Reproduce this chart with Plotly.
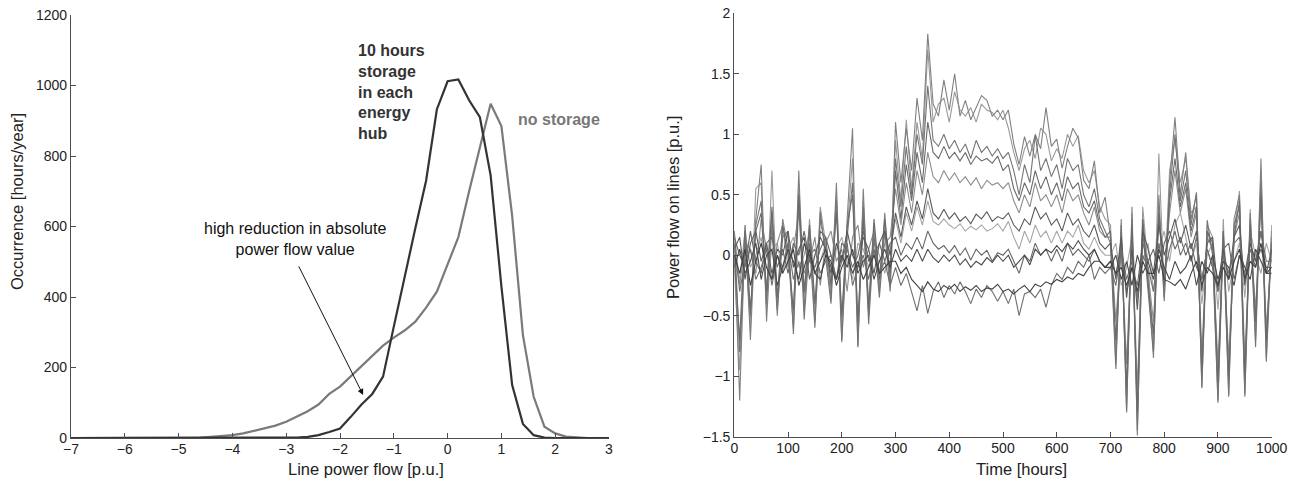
import plotly.graph_objects as go

# ---- left panel: distribution of line power flow ----
flow_bins = [round(-7 + 0.2 * i, 1) for i in range(51)]
occ_no_storage = [0] * 10 + [
    0, 1, 1, 3, 5, 8, 13, 20, 27, 35,
    46, 62, 76, 95, 125, 146, 175, 205, 235, 262,
    285, 305, 330, 370, 415, 490, 570, 700, 825, 948,
    885, 630, 292, 117, 32, 13, 4, 1, 0, 0,
    0]
occ_storage_10h = [0] * 20 + [
    1, 1, 3, 8, 17, 27, 60, 95, 125, 174,
    316, 460, 595, 730, 932, 1012, 1017, 958, 910, 745,
    430, 150, 40, 8, 1, 0, 0, 0, 0, 0,
    0]

x_ticks_left = [-7, -6, -5, -4, -3, -2, -1, 0, 1, 2, 3]
y_ticks_left = [0, 200, 400, 600, 800, 1000, 1200]

# ---- right panel: power flow on lines over time (read every 10 h) ----
hours = list(range(0, 1001, 10))

line_a1 = [0.10, -1.20, 0.20, -0.70, 0.30, 0.75, -0.55, 0.25, -0.50, 0.30,
           0.05, -0.60, 0.70, -0.45, 0.20, -0.55, 0.30, 0.05, -0.35, 0.60,
           -0.70, 0.30, 1.05, -0.75, 0.55, -0.50, 0.25, -0.30, 0.35, -0.25,
           1.10, 0.60, 1.05, 0.70, 1.30, 0.95, 1.83, 1.25, 1.15, 1.45,
           1.20, 1.50, 1.15, 1.28, 1.12, 1.22, 1.32, 1.28, 1.15, 1.20,
           1.12, 1.20, 0.92, 0.75, 0.98, 0.82, 1.00, 0.88, 1.22, 0.90,
           0.96, 0.72, 0.90, 1.05, 0.97, 0.62, 0.55, 0.78, 0.35, 0.48,
           0.15, -0.90, 0.30, -1.30, 0.40, -1.49, 0.30, -0.20, -0.85, 0.50,
           -0.35, 0.60, 1.14, 0.50, 0.85, 0.30, 0.50, -1.10, 0.20, 0.05,
           -1.20, 0.20, -1.15, 0.30, 0.50, -1.15, 0.35, -0.70, 0.80, -0.85,
           0.25]
line_a2 = [-0.10, -0.95, 0.15, -0.60, 0.55, 0.60, -0.45, 0.70, -0.40, 0.20,
           0.15, -0.50, 0.60, -0.35, 0.30, -0.45, 0.40, 0.10, -0.30, 0.50,
           -0.55, 0.20, 0.80, -0.60, 0.45, -0.40, 0.20, -0.25, 0.25, -0.20,
           0.95, 0.45, 1.12, 0.55, 1.10, 0.80, 1.70, 1.10, 1.25, 1.30,
           1.10, 1.35, 1.20, 1.15, 1.22, 1.10, 1.25, 1.20, 1.18, 1.12,
           1.20, 1.05, 0.85, 0.70, 0.88, 0.95, 0.80, 1.05, 1.00, 0.78,
           0.88, 0.80, 1.00, 0.90, 0.99, 0.70, 0.60, 0.70, 0.40, 0.30,
           0.25, -0.80, 0.20, -1.20, 0.35, -1.35, 0.40, -0.10, -0.75, 0.84,
           -0.30, 0.70, 0.95, 0.60, 0.80, 0.35, 0.40, -1.00, 0.25, 0.15,
           -1.10, 0.30, -1.05, 0.20, 0.53, -1.05, 0.38, -0.60, 0.70, -0.75,
           0.20]
line_b1 = [0.20, -0.80, 0.10, -0.50, 0.25, 0.45, -0.40, 0.35, -0.45, 0.15,
           0.20, -0.65, 0.45, -0.53, 0.10, -0.60, 0.36, 0.00, -0.40, 0.45,
           -0.72, 0.15, 0.60, -0.76, 0.40, -0.57, 0.15, -0.35, 0.20, -0.30,
           0.80, 0.40, 0.90, 0.50, 1.00, 0.75, 1.40, 0.95, 0.90, 1.00,
           0.88, 0.95, 0.85, 0.92, 0.80, 0.95, 0.85, 0.90, 0.82, 0.88,
           0.80, 0.85, 0.70, 0.50, 0.75, 0.60, 0.99, 0.70, 0.80, 0.65,
           0.75, 0.55, 0.80, 0.70, 0.75, 0.50, 0.40, 0.55, 0.30, 0.20,
           0.10, -0.94, 0.25, -1.29, 0.30, -1.45, 0.20, -0.30, -0.80, 0.40,
           -0.38, 0.50, 1.00, 0.45, 0.70, 0.25, 0.52, -1.09, 0.29, 0.00,
           -1.22, 0.15, -1.17, 0.25, 0.40, -1.17, 0.30, -0.76, 0.60, -0.88,
           0.15]
line_b2 = [0.00, -0.70, 0.25, -0.45, 0.20, 0.35, -0.30, 0.40, -0.35, 0.25,
           0.00, -0.45, 0.50, -0.30, 0.25, -0.40, 0.20, 0.15, -0.25, 0.35,
           -0.50, 0.25, 0.50, -0.55, 0.30, -0.45, 0.30, -0.20, 0.30, -0.15,
           0.70, 0.30, 0.75, 0.45, 0.85, 0.60, 1.10, 0.85, 0.80, 0.90,
           0.80, 0.85, 0.78, 0.85, 0.75, 0.82, 0.78, 0.80, 0.76, 0.82,
           0.70, 0.75, 0.55, 0.45, 0.60, 0.50, 0.70, 0.55, 0.65, 0.50,
           0.60, 0.45, 0.65, 0.55, 0.60, 0.40, 0.35, 0.45, 0.25, 0.15,
           0.20, -0.70, 0.15, -1.10, 0.25, -1.30, 0.30, -0.25, -0.65, 0.35,
           -0.25, 0.45, 0.80, 0.40, 0.60, 0.20, 0.40, -0.95, 0.20, 0.10,
           -1.05, 0.20, -1.00, 0.15, 0.45, -1.00, 0.25, -0.55, 0.50, -0.70,
           0.10]
line_c1 = [0.20, -0.25, 0.10, 0.05, -0.15, 0.30, 0.05, -0.20, 0.10, 0.25,
           -0.10, 0.05, 0.35, -0.15, -0.05, 0.15, -0.25, 0.10, 0.20, -0.05,
           0.05, -0.30, 0.15, 0.25, -0.10, 0.05, 0.20, -0.15, 0.10, 0.15,
           0.55, 0.25, 0.60, 0.35, 0.70, 0.50, 0.85, 0.65, 0.60, 0.70,
           0.62, 0.68, 0.60, 0.65, 0.58, 0.64, 0.55, 0.62, 0.58, 0.60,
           0.55, 0.60, 0.45, 0.35, 0.50, 0.40, 0.60, 0.45, 0.50, 0.40,
           0.50, 0.35, 0.55, 0.45, 0.50, 0.35, 0.25, 0.40, 0.20, 0.15,
           0.15, -0.55, 0.10, -0.90, 0.20, -1.10, 0.20, -0.15, -0.55, 0.30,
           -0.20, 0.35, 0.70, 0.35, 0.55, 0.15, 0.35, -0.80, 0.15, 0.05,
           -0.90, 0.10, -0.85, 0.15, 0.35, -0.85, 0.20, -0.45, 0.45, -0.60,
           0.05]
line_d1 = [0.05, 0.15, -0.20, 0.10, 0.20, -0.05, 0.10, -0.15, 0.05, 0.00,
           0.20, -0.10, 0.05, 0.15, -0.20, 0.00, 0.15, 0.05, -0.15, 0.10,
           -0.05, 0.20, 0.00, -0.10, 0.15, 0.05, -0.15, 0.10, 0.20, 0.00,
           0.35, 0.15, 0.40, 0.25, 0.45, 0.30, 0.55, 0.35, 0.30, 0.38,
           0.30, 0.35, 0.28, 0.32, 0.26, 0.34, 0.30, 0.36, 0.28, 0.32,
           0.30, 0.35, 0.25, 0.20, 0.30, 0.25, 0.40, 0.30, 0.35, 0.25,
           0.30, 0.20, 0.35, 0.25, 0.30, 0.20, 0.15, 0.25, 0.10, 0.05,
           0.10, -0.20, 0.15, -0.35, 0.05, -0.45, 0.20, 0.05, -0.15, 0.25,
           0.00, 0.15, 0.30, 0.10, 0.25, 0.05, 0.20, -0.30, 0.10, 0.15,
           -0.30, 0.05, -0.20, 0.15, 0.25, -0.25, 0.10, -0.05, 0.20, -0.15,
           0.05]
line_d2 = [-0.05, -0.20, 0.20, -0.10, 0.00, 0.15, -0.25, 0.05, 0.10, -0.15,
           0.05, 0.15, -0.10, 0.00, 0.20, -0.15, -0.05, 0.10, -0.20, 0.05,
           0.15, -0.05, -0.20, 0.10, 0.05, -0.10, 0.10, 0.00, -0.15, 0.05,
           0.30, 0.10, 0.35, 0.20, 0.40, 0.25, 0.45, 0.28, 0.25, 0.30,
           0.25, 0.22, 0.26, 0.20, 0.24, 0.21, 0.25, 0.20, 0.22, 0.26,
           0.20, 0.28, 0.15, 0.05, 0.20, 0.10, 0.25, 0.15, 0.20, 0.10,
           0.20, 0.10, 0.20, 0.15, 0.25, 0.10, 0.05, 0.15, 0.05, 0.00,
           0.00, 0.10, -0.25, -0.10, 0.15, -0.40, -0.05, 0.10, -0.30, 0.05,
           0.20, -0.05, 0.25, 0.35, 0.15, -0.05, 0.10, -0.40, 0.00, 0.10,
           -0.45, 0.15, -0.30, -0.05, 0.10, -0.35, 0.20, 0.00, -0.15, 0.10,
           -0.05]
line_e1 = [0.15, 0.00, -0.10, 0.20, -0.05, -0.15, 0.10, 0.15, -0.10, 0.05,
           -0.15, 0.10, 0.00, 0.20, -0.05, -0.10, 0.05, 0.15, 0.00, -0.20,
           0.10, 0.05, -0.10, 0.00, 0.20, -0.05, 0.00, 0.10, -0.05, 0.10,
           0.15, 0.00, 0.10, 0.05, 0.15, 0.05, 0.20, 0.10, 0.05, 0.08,
           0.02, 0.08, 0.00, 0.06, -0.04, 0.05, 0.00, 0.04, -0.05, 0.02,
           0.00, 0.05, -0.05, -0.15, 0.00, -0.05, 0.10, 0.00, 0.05, -0.05,
           0.05, -0.05, 0.10, 0.00, 0.05, 0.00, -0.05, 0.05, -0.05, -0.10,
           -0.05, -0.15, 0.05, -0.30, -0.10, -0.25, 0.10, -0.05, 0.05, -0.15,
           0.10, 0.20, 0.05, 0.15, 0.00, 0.10, -0.10, -0.20, 0.05, -0.10,
           -0.25, 0.05, 0.10, -0.20, 0.00, -0.15, 0.10, -0.05, 0.05, -0.10,
           -0.10]
line_f1 = [-0.10, 0.05, -0.15, -0.05, 0.10, -0.20, 0.00, 0.05, -0.25, -0.10,
           0.05, -0.05, -0.20, 0.10, 0.00, -0.15, -0.05, 0.05, -0.10, -0.20,
           0.00, -0.10, 0.05, -0.15, -0.05, 0.00, -0.20, -0.05, 0.05, -0.10,
           0.05, -0.05, 0.00, -0.05, 0.05, -0.05, 0.05, -0.02, -0.06, 0.00,
           -0.05, 0.00, -0.08, -0.03, -0.10, -0.05, -0.08, -0.02, -0.06, 0.00,
           -0.05, 0.00, -0.10, -0.05, 0.00, -0.08, 0.05, 0.00, 0.05, 0.02,
           0.08, 0.03, 0.10, 0.05, 0.12, 0.05, 0.00, 0.05, -0.05, -0.10,
           -0.10, 0.00, -0.20, -0.05, -0.25, 0.00, -0.15, -0.05, -0.20, 0.05,
           -0.10, -0.20, -0.05, -0.15, -0.10, 0.00, -0.25, -0.05, -0.15, 0.00,
           -0.20, -0.05, -0.10, -0.25, 0.00, -0.10, -0.20, 0.05, -0.05, -0.15,
           -0.15]
line_g1 = [0.00, -0.15, 0.05, -0.25, -0.05, 0.10, -0.10, -0.20, 0.00, -0.15,
           -0.05, 0.05, -0.25, -0.10, 0.05, -0.15, -0.20, 0.00, -0.05, -0.25,
           -0.10, 0.00, -0.15, -0.05, -0.20, -0.10, 0.00, -0.15, -0.10, -0.05,
           -0.05, -0.15, -0.10, -0.20, -0.25, -0.30, -0.22, -0.28, -0.30, -0.25,
           -0.28, -0.24, -0.30, -0.26, -0.29, -0.25, -0.30, -0.27, -0.28, -0.24,
           -0.30, -0.28, -0.32, -0.28, -0.25, -0.30, -0.24, -0.26, -0.22, -0.24,
           -0.20, -0.22, -0.18, -0.20, -0.15, -0.17, -0.10, -0.05, -0.05, -0.10,
           -0.05, -0.15, -0.10, -0.25, -0.10, -0.30, -0.05, -0.15, -0.15, 0.00,
           -0.20, -0.22, -0.25, -0.20, -0.28, -0.15, -0.05, -0.25, -0.10, -0.15,
           -0.25, -0.10, -0.20, -0.05, 0.05, -0.20, -0.05, -0.10, 0.10, -0.15,
           -0.10]
line_g2 = [0.10, -0.30, -0.05, 0.05, -0.20, -0.10, 0.05, -0.25, 0.00, -0.10,
           0.10, -0.20, -0.05, -0.30, 0.00, 0.05, -0.15, -0.05, 0.00, -0.20,
           -0.05, 0.10, -0.25, -0.10, 0.00, -0.20, 0.05, -0.15, -0.05, -0.25,
           -0.10, -0.25, -0.15, -0.30, -0.46, -0.25, -0.48, -0.30, -0.22, -0.35,
           -0.25, -0.32, -0.22, -0.30, -0.40, -0.28, -0.35, -0.25, -0.30, -0.38,
           -0.30, -0.40, -0.28, -0.50, -0.32, -0.30, -0.35, -0.28, -0.43, -0.25,
           -0.15, -0.20, -0.10, -0.15, -0.05, -0.10, 0.00, -0.20, -0.10, -0.15,
           -0.10, -0.25, 0.05, -0.20, -0.05, -0.35, 0.00, -0.10, -0.30, 0.10,
           -0.15, 0.05, 0.20, 0.00, 0.10, -0.05, 0.15, -0.20, 0.05, -0.10,
           -0.30, 0.00, -0.15, 0.10, 0.15, -0.20, 0.05, -0.10, 0.20, -0.05,
           -0.05]

x_ticks_right = [0, 100, 200, 300, 400, 500, 600, 700, 800, 900, 1000]
y_ticks_right = [-1.5, -1, -0.5, 0, 0.5, 1, 1.5, 2]

# the page body has an 8px margin, so the figure is drawn 8px smaller and
# all layout positions below are given in window pixels
OFF = 8
W, H = 1301 - OFF, 483 - OFF
FONT = "Liberation Sans, Arial, Helvetica, sans-serif"
AXIS = "#4d4d4d"


def px_x(p):
    return (p - OFF) / W


def px_y(p):
    return 1 - (p - OFF) / H


fig = go.Figure()

fig.add_trace(go.Scatter(x=flow_bins, y=occ_no_storage, mode="lines",
                         line=dict(color="#7a7a7a", width=2.2),
                         xaxis="x", yaxis="y", showlegend=False))
fig.add_trace(go.Scatter(x=flow_bins, y=occ_storage_10h, mode="lines",
                         line=dict(color="#333333", width=2.2),
                         xaxis="x", yaxis="y", showlegend=False))

right_lines = [
    (line_a2, "#9a9a9a"), (line_d2, "#a5a5a5"), (line_c1, "#8c8c8c"),
    (line_a1, "#808080"), (line_b1, "#747474"), (line_b2, "#6a6a6a"),
    (line_e1, "#666666"), (line_d1, "#5a5a5a"), (line_g2, "#6e6e6e"),
    (line_f1, "#4a4a4a"), (line_g1, "#404040"),
]
for vals, col in right_lines:
    fig.add_trace(go.Scatter(x=hours, y=vals, mode="lines",
                             line=dict(color=col, width=1.1),
                             xaxis="x2", yaxis="y2", showlegend=False))

axis_common = dict(showline=True, linecolor=AXIS, linewidth=1.2, mirror=False,
                   ticks="inside", ticklen=5, tickcolor=AXIS, tickwidth=1,
                   showgrid=False, zeroline=False, automargin=False,
                   ticklabeloverflow="allow",
                   tickfont=dict(family=FONT, size=14, color="#222"))
xtick_extra = dict(ticklabelstandoff=-2)

fig.update_layout(
    width=W, height=H, autosize=False,
    margin=dict(l=0, r=0, t=0, b=0, pad=0),
    plot_bgcolor="white", paper_bgcolor="white",
    font=dict(family=FONT, color="#222"),
    xaxis=dict(domain=[px_x(71), px_x(609)], range=[-7, 3],
               tickvals=x_ticks_left, anchor="y", **axis_common, **xtick_extra),
    yaxis=dict(domain=[px_y(438), px_y(15)], range=[0, 1200],
               tickvals=y_ticks_left, anchor="x", **axis_common),
    xaxis2=dict(domain=[px_x(734.3), px_x(1271.7)], range=[0, 1000],
                tickvals=x_ticks_right, anchor="y2", **axis_common, **xtick_extra),
    yaxis2=dict(domain=[px_y(436.7), px_y(13.3)], range=[-1.5, 2],
                tickvals=y_ticks_right, anchor="x2", **axis_common),
)

title_font = dict(size=16.5, family=FONT, color="#222")
ann = []
# axis titles
ann.append(dict(text="Line power flow [p.u.]", x=px_x(366), y=px_y(469),
                xref="paper", yref="paper", xanchor="center", yanchor="middle",
                showarrow=False, font=title_font))
ann.append(dict(text="Occurrence [hours/year]", x=px_x(17), y=px_y(202),
                xref="paper", yref="paper", xanchor="center", yanchor="middle",
                showarrow=False, textangle=-90, font=title_font))
ann.append(dict(text="Time [hours]", x=px_x(1021.7), y=px_y(469),
                xref="paper", yref="paper", xanchor="center", yanchor="middle",
                showarrow=False, font=title_font))
ann.append(dict(text="Power flow on lines [p.u.]", x=px_x(673), y=px_y(208),
                xref="paper", yref="paper", xanchor="center", yanchor="middle",
                showarrow=False, textangle=-90, font=title_font))
# labels inside left panel
ann.append(dict(text="<b>10 hours<br>storage<br>in each<br>energy<br>hub</b>",
                x=px_x(356), y=px_y(92), xref="paper", yref="paper",
                xanchor="left", yanchor="middle", align="left", showarrow=False,
                font=dict(size=16, family=FONT, color="#333333")))
ann.append(dict(text="<b>no storage</b>", x=px_x(516), y=px_y(119),
                xref="paper", yref="paper", xanchor="left", yanchor="middle",
                showarrow=False, font=dict(size=16, family=FONT, color="#777777")))
ann.append(dict(text="high reduction in absolute<br>power flow value",
                x=px_x(295), y=px_y(239), xref="paper", yref="paper",
                xanchor="center", yanchor="middle", align="center", showarrow=False,
                font=dict(size=16, family=FONT, color="#111")))
ann.append(dict(text="", x=-1.57, y=122, ax=-2.78, ay=491,
                xref="x", yref="y", axref="x", ayref="y",
                showarrow=True, arrowhead=2, arrowsize=1.2, arrowwidth=1,
                arrowcolor="#111"))
fig.update_layout(annotations=ann)

fig.write_html("out.html")
